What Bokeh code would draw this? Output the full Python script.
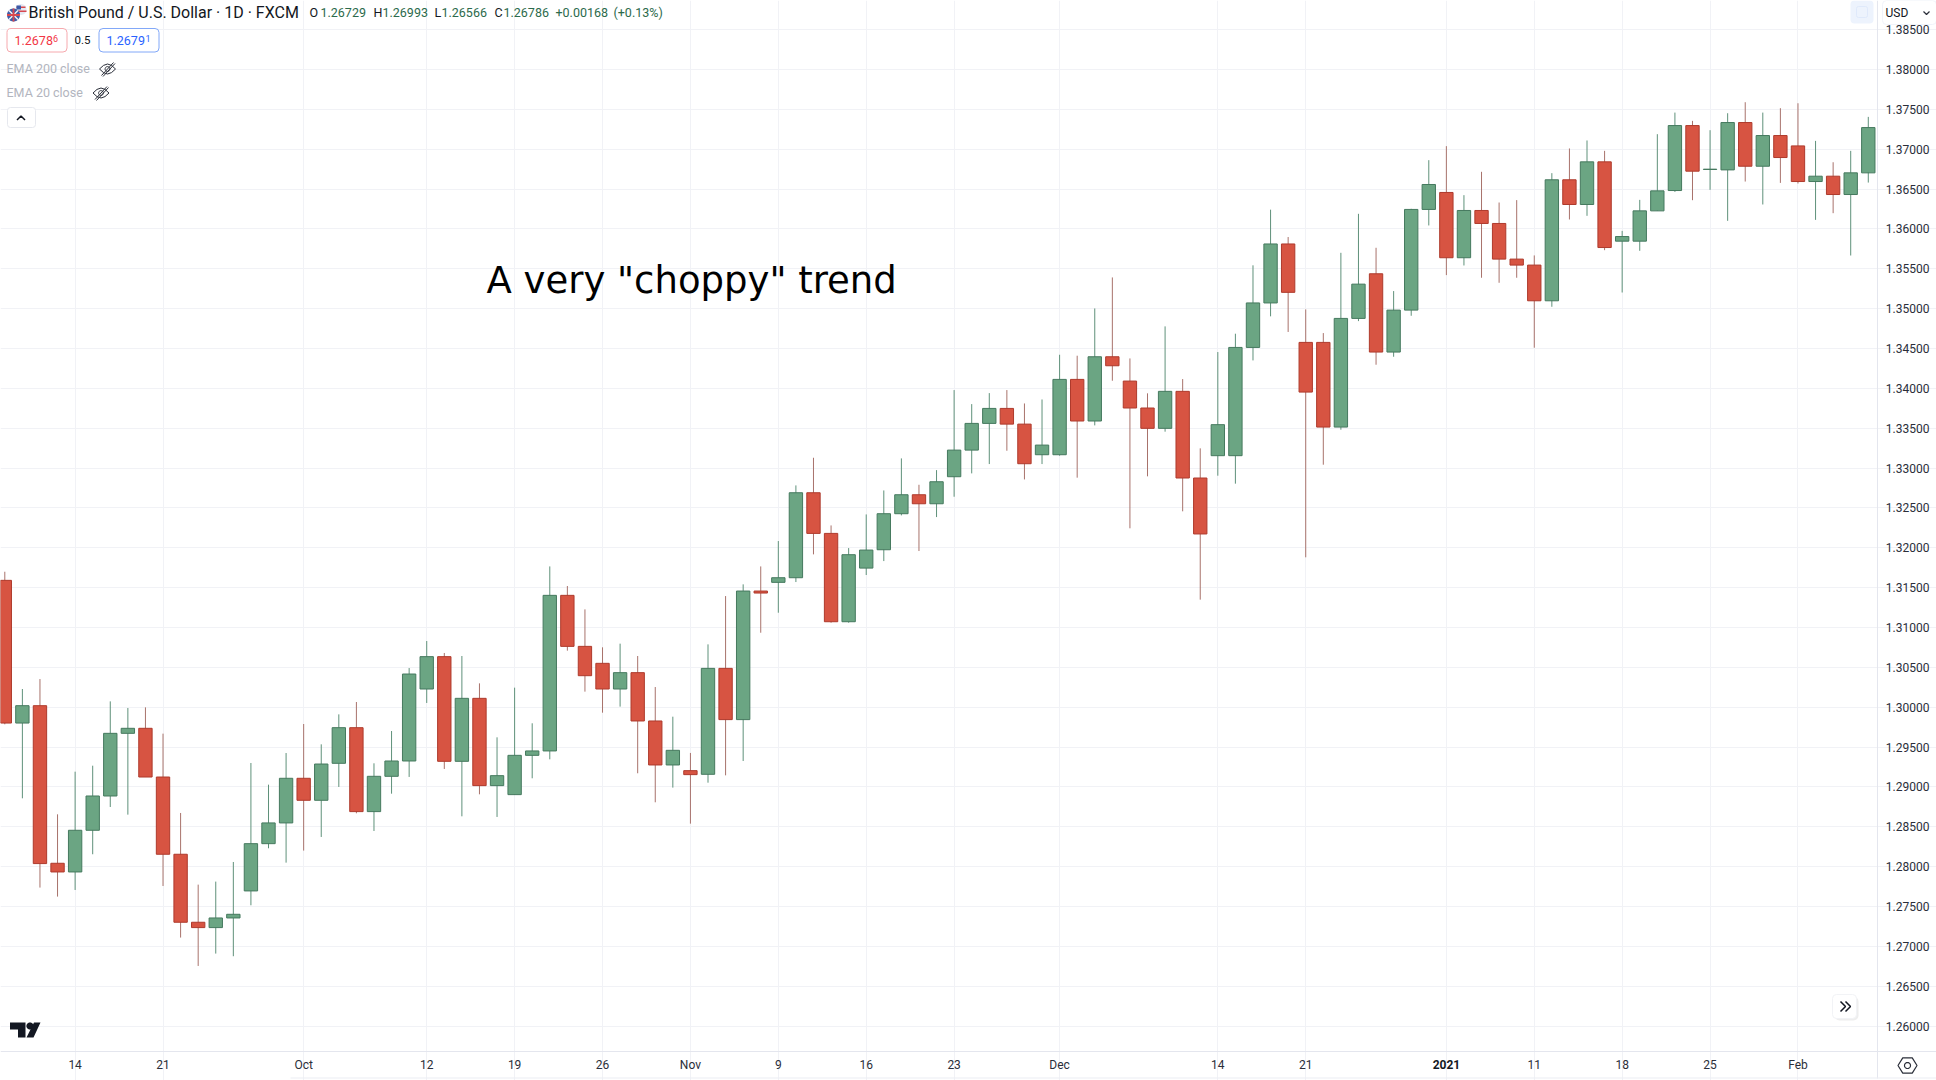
from math import cos, sin, pi
from bokeh.plotting import figure
from bokeh.models import (ColumnDataSource, Range1d, FixedTicker, Label, BoxAnnotation, PolyAnnotation)
from bokeh.embed import file_html
from bokeh.resources import INLINE

opens = [1.31592,1.29802,1.30020,1.28043,1.27934,1.28457,1.28887,1.29673,1.29736,1.29125,
1.28156,1.27303,1.27236,1.27357,1.27696,1.28289,1.28549,1.29109,1.28833,1.29297,
1.29744,1.28691,1.29134,1.29326,1.30229,1.30635,1.29322,1.30112,1.29017,1.28904,
1.29397,1.29452,1.31404,1.30764,1.30551,1.30229,1.30434,1.29828,1.29276,1.29205,
1.29159,1.30488,1.29845,1.31458,1.31567,1.31625,1.32691,1.32181,1.31073,1.31746,
1.31976,1.32428,1.32666,1.32553,1.32892,1.33226,1.33561,1.33749,1.33552,1.33168,
1.33168,1.34113,1.33591,1.34397,1.34092,1.33754,1.33499,1.33963,1.32876,1.33156,
1.33156,1.34514,1.35072,1.35812,1.34577,1.34577,1.33515,1.34878,1.35438,1.34456,
1.34982,1.36245,1.36458,1.35639,1.36232,1.36069,1.35622,1.35547,1.35099,1.36617,
1.36307,1.36842,1.35847,1.35847,1.36227,1.36482,1.37297,1.36746,1.36741,1.37335,
1.36787,1.37172,1.37042,1.36595,1.36662,1.36432,1.36704]
highs = [1.31700,1.30229,1.30354,1.28657,1.29192,1.29267,1.30074,1.29991,1.29999,1.29669,
1.28674,1.27775,1.27813,1.28059,1.29301,1.29029,1.29426,1.29790,1.29535,1.29911,
1.30066,1.29297,1.29702,1.30492,1.30831,1.30681,1.30643,1.30300,1.29623,1.30246,
1.29799,1.31767,1.31521,1.31228,1.30752,1.30798,1.30643,1.30254,1.29882,1.29427,
1.30789,1.31395,1.31542,1.31767,1.32085,1.32783,1.33130,1.32281,1.31997,1.32419,
1.32720,1.33122,1.32791,1.32975,1.33979,1.33803,1.33941,1.33979,1.33811,1.33861,
1.34422,1.34410,1.35003,1.35392,1.34376,1.33938,1.34778,1.34117,1.33248,1.34456,
1.34686,1.35544,1.36242,1.35899,1.34991,1.34694,1.35701,1.36190,1.35764,1.35221,
1.36253,1.36863,1.37039,1.36424,1.36717,1.36332,1.36362,1.35668,1.36700,1.37010,
1.37110,1.36980,1.35976,1.36365,1.37189,1.37460,1.37356,1.37239,1.37452,1.37590,
1.37460,1.37515,1.37577,1.37105,1.36837,1.36980,1.37406]
lows = [1.29786,1.28858,1.27738,1.27625,1.27708,1.28156,1.28749,1.28653,1.29125,1.27758,
1.27111,1.26755,1.26910,1.26877,1.27516,1.28231,1.28051,1.28202,1.28373,1.29000,
1.28670,1.28448,1.28916,1.29126,1.30054,1.29226,1.28632,1.28908,1.28624,1.28904,
1.29109,1.29347,1.30710,1.30196,1.29932,1.30008,1.29172,1.28808,1.28992,1.28540,
1.29054,1.29146,1.29326,1.30935,1.31186,1.31571,1.31918,1.31061,1.31061,1.31659,
1.31834,1.32407,1.31960,1.32386,1.32641,1.32934,1.33051,1.33218,1.32858,1.33051,
1.33156,1.32880,1.33536,1.34096,1.32245,1.32897,1.33457,1.32458,1.31350,1.32905,
1.32805,1.34351,1.34904,1.34708,1.31881,1.33043,1.33482,1.34844,1.34297,1.34397,
1.34911,1.36044,1.35421,1.35542,1.35388,1.35325,1.35388,1.34510,1.35024,1.36119,
1.36165,1.35734,1.35203,1.35726,1.36227,1.36465,1.36361,1.36491,1.36102,1.36595,
1.36307,1.36578,1.36570,1.36114,1.36198,1.35667,1.36582]
closes = [1.29802,1.30020,1.28039,1.27934,1.28457,1.28887,1.29673,1.29736,1.29125,1.28156,
1.27303,1.27236,1.27357,1.27403,1.28289,1.28549,1.29109,1.28833,1.29288,1.29744,
1.28691,1.29134,1.29326,1.30417,1.30635,1.29322,1.30112,1.29017,1.29142,1.29397,
1.29452,1.31404,1.30764,1.30396,1.30229,1.30434,1.29828,1.29276,1.29460,1.29155,
1.30488,1.29845,1.31458,1.31433,1.31625,1.32691,1.32181,1.31073,1.31914,1.31972,
1.32428,1.32666,1.32553,1.32829,1.33226,1.33561,1.33749,1.33552,1.33055,1.33289,
1.34113,1.33591,1.34397,1.34284,1.33754,1.33499,1.33963,1.32876,1.32174,1.33545,
1.34514,1.35072,1.35812,1.35205,1.33954,1.33515,1.34878,1.35308,1.34456,1.34982,
1.36245,1.36558,1.35639,1.36232,1.36069,1.35622,1.35547,1.35099,1.36617,1.36307,
1.36842,1.35767,1.35905,1.36227,1.36478,1.37297,1.36725,1.36750,1.37335,1.36787,
1.37172,1.36896,1.36595,1.36662,1.36432,1.36704,1.37272]

x_tick_bars = [4, 9, 17, 24, 29, 34, 39, 44, 49, 54, 60, 69, 74, 82, 87, 92, 97, 102]
x_tick_labels = ["14", "21", "Oct", "12", "19", "26", "Nov", "9", "16", "23", "Dec", "14", "21", " ", "11", "18", "25", "Feb"]
y_ticks = [1.26, 1.265, 1.27, 1.275, 1.28, 1.285, 1.29, 1.295, 1.30, 1.305, 1.31, 1.315, 1.32, 1.325,
           1.33, 1.335, 1.34, 1.345, 1.35, 1.355, 1.36, 1.365, 1.37, 1.375, 1.38, 1.385]

W, H = 1936, 1080
UI = "Roboto"
X0, X1 = -0.2446, 109.88      # the frame fills the canvas
Y0, Y1 = 1.25318, 1.38866
PANE_X_END, PANE_Y_LOW = 106.52, 1.25682   # where the scales begin
p = figure(width=W, height=H, output_backend="svg", toolbar_location=None,
           x_range=Range1d(X0, X1), y_range=Range1d(Y0, Y1),
           y_axis_location="right", min_border_left=0, min_border_right=0,
           min_border_top=0, min_border_bottom=0, margin=(0, 0, 0, 0),
           background_fill_color="white", border_fill_color="white", outline_line_color=None)

# axes and grid
grid_col = "#f1f2f6"
ax_col = "#e4e6ee"
xa, ya = p.xaxis[0], p.yaxis[0]
xa.ticker = FixedTicker(ticks=x_tick_bars)
xa.major_label_overrides = {t: l for t, l in zip(x_tick_bars, x_tick_labels)}
ya.ticker = FixedTicker(ticks=y_ticks)
ya.major_label_overrides = {t: f"{t:.5f}" for t in y_ticks}
for a in (xa, ya):
    a.major_tick_line_color = None
    a.minor_tick_line_color = None
    a.axis_line_color = None
    a.major_label_text_font = UI
    a.major_label_text_font_size = "12px"
    a.major_label_text_color = "#2a2e39"
# the axes sit on the canvas itself, so they take no room from the frame
ya.major_label_standoff = -46
ya.fixed_location = 109.27
xa.major_label_standoff = -16
xa.fixed_location = 1.25469
p.xgrid[0].ticker = FixedTicker(ticks=x_tick_bars)
p.ygrid[0].ticker = FixedTicker(ticks=y_ticks)
p.xgrid[0].grid_line_color = grid_col
p.ygrid[0].grid_line_color = grid_col
p.xgrid[0].bounds = (PANE_Y_LOW, Y1)
p.ygrid[0].bounds = (X0, PANE_X_END)

# candles
idx = list(range(len(opens)))
up = [i for i in idx if closes[i] >= opens[i]]
dn = [i for i in idx if closes[i] < opens[i]]
def src(ids):
    return ColumnDataSource(dict(x=ids, o=[opens[i] for i in ids], h=[highs[i] for i in ids],
                                 l=[lows[i] for i in ids], c=[closes[i] for i in ids]))
su, sd = src(up), src(dn)
p.segment("x", "h", "x", "l", source=su, line_color="#5f917a", line_width=1)
p.segment("x", "h", "x", "l", source=sd, line_color="#a8726b", line_width=1)
bw = 0.76
p.vbar("x", bw, "o", "c", source=su, fill_color="#6ba583", line_color="#45795e", line_width=1)
p.vbar("x", bw, "c", "o", source=sd, fill_color="#d75442", line_color="#ae3a2c", line_width=1)

LEVEL = "annotation"
# UI helpers, in canvas pixels
def text(x, y, s, size=12, color="#131722", font=UI, align="left", style="normal", base="middle"):
    p.add_layout(Label(x=x, y=y, x_units="canvas", y_units="canvas", text=s, text_font=font,
                       text_font_size=f"{size}px", text_color=color, text_align=align,
                       text_baseline=base, text_font_style=style, level=LEVEL))
def box(l, t, r, b, fill="white", line=None, radius=0, width=1):
    p.add_layout(BoxAnnotation(left=l, right=r, top=t, bottom=b, left_units="canvas", right_units="canvas",
                               top_units="canvas", bottom_units="canvas", fill_color=fill, fill_alpha=1,
                               line_color=line or fill, line_alpha=1 if line else 0, line_width=width,
                               border_radius=radius, level=LEVEL))
def poly(xs, ys, fill=None, line=None, width=1):
    p.add_layout(PolyAnnotation(xs=xs, ys=ys, xs_units="canvas", ys_units="canvas",
                                fill_color=fill or "white", fill_alpha=1 if fill else 0,
                                line_color=line or "white", line_alpha=1 if line else 0, line_width=width,
                                level=LEVEL))
def path(xs, ys, color="#131722", width=1.5):
    poly(xs + xs[-2:0:-1], ys + ys[-2:0:-1], line=color, width=width)
def circ(cx, cy, r, fill=None, line=None, width=1):
    n = 24
    poly([cx + r * cos(2 * pi * k / n) for k in range(n)], [cy + r * sin(2 * pi * k / n) for k in range(n)],
         fill=fill, line=line, width=width)

# scale borders
box(1876.5, 0, 1877.5, 1078, fill=ax_col)
box(0, 1050.5, 1936, 1051.5, fill=ax_col)
box(290, 1077, 1936, 1078, fill="#eceef3")

# annotation text
text(486, 279.5, 'A very "choppy" trend', size=37, color="#000000", font="DejaVu Sans", base="alphabetic")

# flag icon
circ(20.5, 9, 5.5, fill="#e4e8f2")
poly([16, 25, 25, 16], [6, 6, 7.6, 7.6], fill="#d8484f")
poly([15.5, 26, 26, 15.5], [10, 10, 11.6, 11.6], fill="#d8484f")
poly([16, 20.5, 20.5, 16], [5, 5, 9, 9], fill="#3b5aa8")
circ(13, 14.5, 6.5, fill="#3f5da8")
path([8.5, 17.5], [10, 19], color="#f5f5f5", width=1.5)
path([17.5, 8.5], [10, 19], color="#f5f5f5", width=1.5)
path([6.5, 19.5], [14.5, 14.5], color="#d8484f", width=1.8)
path([13, 13], [8, 21], color="#d8484f", width=1.8)

# title and OHLC values
text(28, 12, "British Pound / U.S. Dollar \u00b7 1D \u00b7 FXCM", size=16, color="#131722")
g = "#2c6a4c"
dk = "#131722"
for x, s in [(309, "O"), (373, "H"), (434, "L"), (494, "C")]:
    text(x, 11.5, s, size=12.5, color=dk)
for x, s in [(320, "1.26729"), (382, "1.26993"), (441, "1.26566"), (503, "1.26786"), (555, "+0.00168"), (613, "(+0.13%)")]:
    text(x, 11.5, s, size=12.5, color=g)

# bid / ask boxes
box(6.5, 28, 66.5, 51.5, line="#f6a9ae", radius=4)
text(14, 39.5, "1.2678", size=12.5, color="#f23645")
text(52.5, 38, "6", size=9, color="#f23645")
text(82, 39.5, "0.5", size=11.5, color="#131722", align="center")
box(98.5, 28, 158.5, 51.5, line="#82a8f8", radius=4)
text(106, 39.5, "1.2679", size=12.5, color="#2962ff")
text(145, 38, "1", size=9, color="#2962ff")

# indicator legends
text(6, 68, "EMA 200 close", size=12.5, color="#b2b5be")
text(6, 92, "EMA 20 close", size=12.5, color="#b2b5be")
def eye(cx, cy):
    poly([cx - 8, cx - 4, cx, cx + 4, cx + 8, cx + 4, cx, cx - 4], [cy, cy - 3.6, cy - 5, cy - 3.6, cy, cy + 3.6, cy + 5, cy + 3.6],
         line="#2a2e39", width=1)
    circ(cx, cy, 2.4, line="#2a2e39")
    path([cx + 6, cx - 6], [cy - 6.5, cy + 6.5], color="#2a2e39", width=1)
    path([cx + 7.5, cx - 4.5], [cy - 5.5, cy + 7.5], color="#2a2e39", width=1)
eye(107, 68.5)
eye(100.5, 92.5)

# collapse button
box(7, 107, 35, 127, line="#e6e8ee", radius=3)
path([16.5, 20.5, 24.5], [119.5, 115.5, 119.5], color="#131722", width=1.5)

# logo
poly([9.5, 25, 25, 17.5, 17.5, 9.5], [1022, 1022, 1037, 1037, 1029, 1029], fill="#131722")
circ(29.5, 1025.5, 3.6, fill="#131722")
poly([33.5, 40, 33, 26], [1022, 1022, 1037, 1037], fill="#131722")

# scroll button
box(1834, 996, 1858, 1020, fill="#eeeeee", radius=5)
box(1832, 994, 1856, 1018, fill="#ffffff", line="#f2f3f6", radius=4)
path([1840, 1845, 1840], [1001, 1006, 1011], color="#131722", width=1.5)
path([1845, 1850, 1845], [1001, 1006, 1011], color="#131722", width=1.5)

# top-right controls
box(1850, 0, 1873, 23, fill="#edf3fd", radius=4)
box(1856, 6, 1867, 17, fill="#edf3fd", line="#dfe9fb", radius=2)
box(1882, 0, 1936, 24, fill="#ffffff", line="#f0f3fa", radius=4)
text(1885, 12, "USD", size=12, color="#131722")
path([1923, 1926, 1929], [11, 14, 11], color="#2a2e39", width=1.2)

# settings icon
hx, hy, hr = 1907, 1065, 9.5
poly([hx + hr * cos(pi * k / 3) for k in range(6)], [hy + hr * sin(pi * k / 3) * 0.92 for k in range(6)], line="#2a2e39", width=1.2)
circ(hx, hy, 3, line="#2a2e39", width=1.2)

# bold year label
text(1445.9, 1064, "2021", size=12, color="#131722", align="center", style="bold")

open("out.html", "w").write(file_html(p, INLINE))
